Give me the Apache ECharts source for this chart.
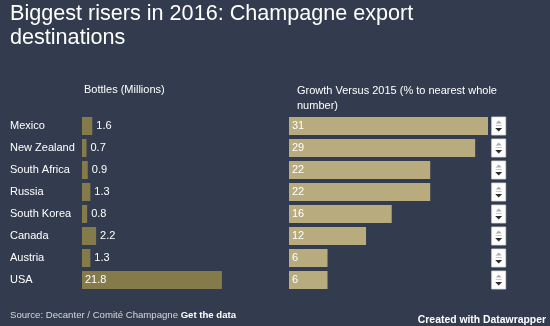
<!DOCTYPE html>
<html>
<head>
<meta charset="utf-8">
<script src="https://cdn.jsdelivr.net/npm/echarts@6/dist/echarts.min.js"></script>
<style>
  html, body { margin: 0; padding: 0; background: #333c4e; }
  #chart { width: 550px; height: 326px; }
</style>
</head>
<body>
<div id="chart"></div>
<script>
// Champagne export destinations, 2016
const countries = ['Mexico', 'New Zealand', 'South Africa', 'Russia', 'South Korea', 'Canada', 'Austria', 'USA'];
const bottlesMillions = [1.6, 0.7, 0.9, 1.3, 0.8, 2.2, 1.3, 21.8];
const growthPct = [31, 29, 22, 22, 16, 12, 6, 6];

const FONT = '"Liberation Sans", Arial, sans-serif';
const TEXT = '#ffffff';
const AXIS_MAX = 31;   // shared scale for both bar columns

const chart = echarts.init(document.getElementById('chart'), null, { renderer: 'canvas' });

// Small bars get their value beside the bar, long ones inside it
const bottleData = bottlesMillions.map(v => ({
  value: v,
  label: v > 10 ? { position: 'insideLeft', distance: 3 } : { position: 'right', distance: 4 }
}));

// Spinner widget drawn at the end of each growth row
function renderSpinner(params, api) {
  const cy = api.coord([0, api.value(0)])[1];
  const x = 491.7, w = 14, h = 18;
  const top = cy - h / 2;
  const cx = x + w / 2;
  return {
    type: 'group',
    children: [
      { type: 'rect', shape: { x: x, y: top, width: w, height: h },
        style: { fill: '#ffffff', stroke: '#d9dbe0', lineWidth: 0.8 } },
      { type: 'polygon', shape: { points: [[cx - 3, top + 6.5], [cx + 3, top + 6.5], [cx, top + 3.5]] },
        style: { fill: '#a9abb0' } },
      { type: 'line', shape: { x1: cx - 3, y1: top + 8.5, x2: cx + 3, y2: top + 8.5 },
        style: { stroke: '#c4c6ca', lineWidth: 1 } },
      { type: 'polygon', shape: { points: [[cx - 3.5, top + 11], [cx + 3.5, top + 11], [cx, top + 14.5]] },
        style: { fill: '#2b2b2b' } }
    ]
  };
}

const hiddenX = { type: 'value', min: 0, max: AXIS_MAX, show: false, splitLine: { show: false } };

chart.setOption({
  backgroundColor: '#333c4e',
  animation: false,
  title: {
    text: 'Biggest risers in 2016: Champagne export\ndestinations',
    left: 10, top: 1.5, padding: 0,
    textStyle: { color: TEXT, fontFamily: FONT, fontSize: 21.6, fontWeight: 'normal', lineHeight: 24.5 }
  },
  grid: [
    { left: 82, top: 115, width: 199, height: 176 },
    { left: 289, top: 115, width: 199, height: 176 }
  ],
  xAxis: [
    Object.assign({ gridIndex: 0 }, hiddenX),
    Object.assign({ gridIndex: 1 }, hiddenX)
  ],
  yAxis: [
    {
      gridIndex: 0, type: 'category', data: countries, inverse: true,
      axisLine: { show: false }, axisTick: { show: false },
      axisLabel: { color: TEXT, fontFamily: FONT, fontSize: 11, align: 'left', margin: 72 }
    },
    {
      gridIndex: 1, type: 'category', data: countries, inverse: true,
      axisLine: { show: false }, axisTick: { show: false }, axisLabel: { show: false }
    }
  ],
  series: [
    {
      type: 'bar', xAxisIndex: 0, yAxisIndex: 0, barWidth: 18,
      data: bottleData,
      itemStyle: { color: '#857a4a' },
      label: { show: true, color: TEXT, fontFamily: FONT, fontSize: 11 }
    },
    {
      type: 'bar', xAxisIndex: 1, yAxisIndex: 1, barWidth: 18,
      data: growthPct,
      itemStyle: { color: '#b8ab7e' },
      label: { show: true, position: 'insideLeft', distance: 3, color: TEXT, fontFamily: FONT, fontSize: 11 }
    },
    {
      type: 'custom', xAxisIndex: 1, yAxisIndex: 1,
      data: countries.map((c, i) => [i]),
      renderItem: renderSpinner,
      silent: true
    }
  ],
  graphic: [
    { type: 'text', left: 84, top: 84,
      style: { text: 'Bottles (Millions)', fill: TEXT, font: '11px ' + FONT } },
    { type: 'text', left: 297, top: 84,
      style: { text: 'Growth Versus 2015 (% to nearest whole\nnumber)', fill: TEXT, font: '11px ' + FONT, lineHeight: 14.5 } },
    { type: 'text', left: 10, top: 310,
      style: {
        text: '{a|Source: Decanter / Comité Champagne }{b|Get the data}',
        rich: {
          a: { fill: '#d6d8dc', font: '9.6px ' + FONT },
          b: { fill: TEXT, font: 'bold 9.6px ' + FONT }
        }
      } },
    { type: 'text', right: 4, top: 315.5,
      style: { text: 'Created with Datawrapper', fill: TEXT, font: 'bold 10.4px ' + FONT } }
  ]
});
</script>
</body>
</html>
